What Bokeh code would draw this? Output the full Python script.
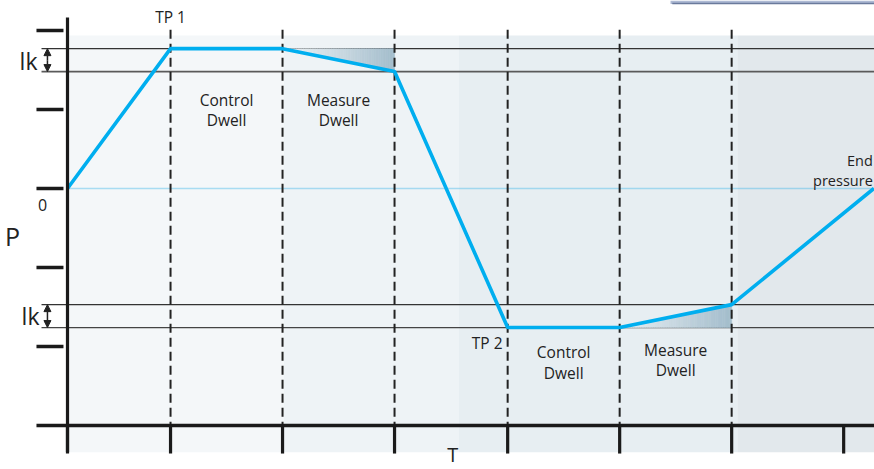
import numpy as np
from bokeh.plotting import figure
from bokeh.models import Range1d, Arrow, NormalHead
from bokeh.core.properties import value
from bokeh.embed import file_html
from bokeh.resources import INLINE

# ---- data (schematic units: T in phase steps, P in pressure steps) ----
phase_marks = [0.0, 0.92, 1.92, 2.92, 3.93, 4.93, 5.93, 6.93]      # T axis ticks
dashed_marks = [0.92, 1.92, 2.92, 3.93, 4.93, 5.93]               # phase boundaries
p_ticks = [2.0, 1.0, 0.0, -1.0, -2.0]                              # P axis ticks
curve_t = [0.0, 0.92, 1.92, 2.92, 3.93, 4.93, 5.93, 7.2]
curve_p = [0.0, 1.77, 1.77, 1.48, -1.76, -1.76, -1.47, 0.0]
lk_upper = [1.77, 1.48]
lk_lower = [-1.47, -1.76]
shade_edges = [0.0, 1.93, 3.49, 5.98, 7.21]
shade_colors = ["#f4f7f9", "#eef3f6", "#e7eef2", "#e2e8ec"]
phase_labels = [("Control", "Dwell"), ("Measure", "Dwell")]
upper_phases = [(0.92, 1.92), (1.92, 2.92)]
lower_phases = [(3.93, 4.93), (4.93, 5.93)]

FONT = value("Open Sans")
INK = "#222222"
BLUE = "#00aeef"

x0r, x1r = -67 / 112, 807 / 112
y0r, y1r = -281 / 79, 188 / 79

p = figure(width=874, height=469, x_range=Range1d(x0r, x1r), y_range=Range1d(y0r, y1r),
           x_axis_type=None, y_axis_type=None, toolbar_location=None,
           output_backend="svg", min_border=0, outline_line_color=None,
           background_fill_color="white", border_fill_color="white")
p.grid.visible = False

# background shading bands
p.quad(left=shade_edges[:-1], right=shade_edges[1:], bottom=-3.34, top=1.937,
       fill_color=shade_colors, line_color=None)

# fragment of a box at the top right edge
p.quad(left=[5.384], right=[x1r], bottom=[2.335], top=[y1r],
       fill_color="#aebad4", line_color=None)
p.segment(x0=[5.40], y0=[2.343], x1=[x1r], y1=[2.343], line_color="#6a7a9c", line_width=1.5)


def hex2rgb(h):
    h = h.lstrip("#")
    return [int(h[i:i + 2], 16) for i in (0, 2, 4)]


def blend(c0, c1, a):
    r0, r1 = hex2rgb(c0), hex2rgb(c1)
    return "#%02x%02x%02x" % tuple(int(round(r0[k] * (1 - a) + r1[k] * a)) for k in range(3))


def bg_at(x):
    for i in range(len(shade_colors)):
        if shade_edges[i] <= x < shade_edges[i + 1]:
            return shade_colors[i]
    return shade_colors[-1]


def curve_at(x):
    return float(np.interp(x, curve_t, curve_p))


# zero reference (dotted)
p.segment(x0=[0], y0=[0], x1=[x1r], y1=[0], line_color="#4dbbea", line_width=1.3,
          line_dash="1 1", line_alpha=0.9)

# lk band lines
for lv, col, w in [(lk_upper[0], "#333333", 1.3), (lk_upper[1], "#5a5a5a", 1.6),
                   (lk_lower[0], "#333333", 1.2), (lk_lower[1], "#444444", 1.2)]:
    p.segment(x0=[-0.232], y0=[lv], x1=[x1r], y1=[lv], line_color=col, line_width=w)

# gradient wedges in the measure dwells
GRAD = "#a3bdcc"
N = 48
for (a, b), flat in [((1.92, 2.92), lk_upper[0]), ((4.93, 5.93), lk_lower[1])]:
    xs, ys, cols = [], [], []
    for i in range(N):
        xa = a + (b - a) * i / N
        xb = a + (b - a) * (i + 1) / N
        xs.append([xa, xb, xb, xa])
        ys.append([flat, flat, curve_at(xb), curve_at(xa)])
        t = (i + 0.5) / N
        cols.append(blend(bg_at(xa), GRAD, t ** 1.1))
    p.patches(xs, ys, fill_color=cols, line_color=cols, line_width=0.6)

# phase boundaries
p.segment(x0=dashed_marks, y0=[2.01] * len(dashed_marks), x1=dashed_marks,
          y1=[-3.0] * len(dashed_marks), line_color=INK, line_width=2, line_dash="9 5")

# pressure curve
p.line(curve_t, curve_p, line_color=BLUE, line_width=3.6)

# axes
p.segment(x0=[0], y0=[2.165], x1=[0], y1=[-3.34], line_color="#1a1a1a", line_width=3.2)
p.segment(x0=[-0.277], y0=[-3.0], x1=[x1r], y1=[-3.0], line_color="#1a1a1a", line_width=3.6)
p.segment(x0=phase_marks, y0=[-3.0] * len(phase_marks), x1=phase_marks,
          y1=[-3.355] * len(phase_marks), line_color="#1a1a1a", line_width=3.2)
p.segment(x0=[-0.277] * len(p_ticks), y0=p_ticks, x1=[-0.036] * len(p_ticks), y1=p_ticks,
          line_color="#1a1a1a", line_width=3.4)

# lk double arrows
for hi, lo in [(lk_upper[0], lk_upper[1]), (lk_lower[0], lk_lower[1])]:
    mid = (hi + lo) / 2
    for tip in (hi, lo):
        p.add_layout(Arrow(end=NormalHead(size=7, fill_color=INK, line_color=INK),
                           x_start=-0.179, y_start=mid, x_end=-0.179, y_end=tip,
                           line_color=INK, line_width=1.5))

# phase labels
lx = [(a + b) / 2 for (a, b) in upper_phases] + [(a + b) / 2 for (a, b) in lower_phases]
tops = [1.114, 1.114, -2.07, -2.05]
bots = [0.861, 0.861, -2.33, -2.30]
words = [phase_labels[0], phase_labels[1], phase_labels[0], phase_labels[1]]
FS = "15.5px"
p.text(x=lx, y=tops, text=[w[0] for w in words], text_font=FONT, text_font_size=FS,
       text_align="center", text_baseline="middle", text_color=INK)
p.text(x=lx, y=bots, text=[w[1] for w in words], text_font=FONT, text_font_size=FS,
       text_align="center", text_baseline="middle", text_color=INK)

# TP labels
p.text(x=[0.92], y=[2.165], text=["TP 1"], text_font=FONT, text_font_size=FS,
       text_align="center", text_baseline="middle", text_color=INK)
p.text(x=[3.884], y=[-1.96], text=["TP 2"], text_font=FONT, text_font_size=FS,
       text_align="right", text_baseline="middle", text_color=INK)

# End pressure (right-aligned at the chart's right edge)
p.text(x=[7.19, 7.19], y=[0.354, 0.10], text=["End", "pressure"], text_font=FONT,
       text_font_size="14.5px", text_align="right", text_baseline="middle", text_color=INK)

# lk labels
p.text(x=[-0.348, -0.33], y=[1.62, -1.608], text=["lk", "lk"], text_font=FONT,
       text_font_size="23px", text_align="center", text_baseline="middle", text_color=INK)

# 0 label
p.text(x=[-0.223], y=[-0.203], text=["0"], text_font=FONT, text_font_size="16px",
       text_align="center", text_baseline="middle", text_color=INK)

# axis titles
p.text(x=[-0.491], y=[-0.6], text=["P"], text_font=FONT, text_font_size="25px",
       text_align="center", text_baseline="middle", text_color=INK)
p.text(x=[3.44], y=[-3.37], text=["T"], text_font=FONT, text_font_size="20px",
       text_align="center", text_baseline="middle", text_color=INK)

open("out.html", "w").write(file_html(p, INLINE))
